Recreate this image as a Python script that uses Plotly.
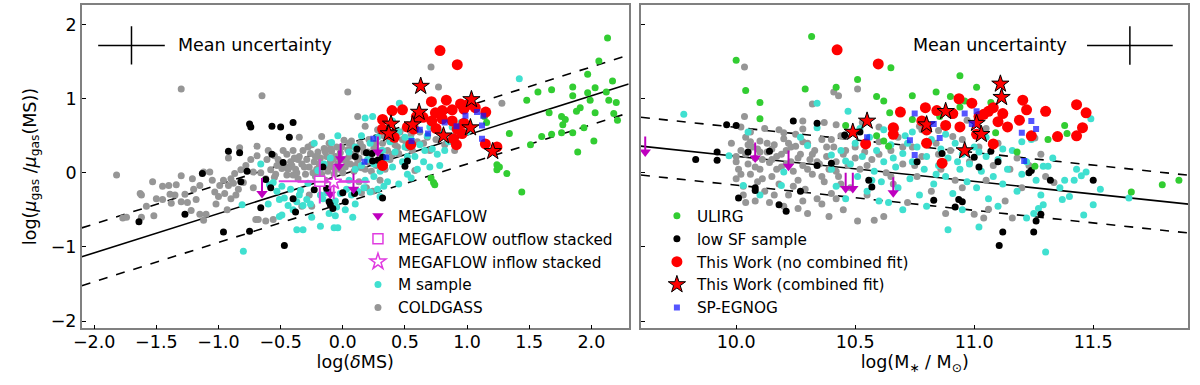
import plotly.graph_objects as go

# ---------------- data ----------------
# left panel: (log(deltaMS), log(mu_gas/mu_gas(MS)))
coldgass_left = [
(-1.82,-0.03),(-1.74,-0.60),(-1.77,-0.61),(-1.63,-0.28),(-1.62,-0.30),(-1.53,-0.12),(-1.52,-0.58),(-1.62,-0.60),
(-1.45,-0.18),(-1.40,-0.17),(-1.34,-0.16),(-1.45,-0.36),(-1.39,-0.29),(-1.38,-0.41),(-1.30,-0.04),(-1.30,-0.39),
(-1.27,-0.29),(-1.25,-0.40),(-1.21,-0.08),(-1.18,-0.36),(-1.22,-0.51),(-1.15,-0.56),(-1.12,-0.64),(-1.10,-0.56),
(-1.12,0.01),(-1.07,0.01),(-1.15,-0.17),(-1.03,-0.26),(-0.99,-0.17),(-1.00,-0.32),(-1.02,-0.42),(-0.96,-0.10),
(-0.92,-0.17),(-0.90,-0.08),(-0.87,-0.01),(-0.93,-0.50),(-0.92,0.20),(-0.90,-0.35),(-0.88,-0.14),(-0.86,-0.30),
(-0.83,0.34),(-0.82,0.04),(-0.80,-0.13),(-0.74,0.18),(-0.72,0.01),(-0.69,0.36),(-0.69,0.23),(-0.70,-0.63),
(-0.61,0.18),(-0.62,-0.08),(-0.62,-0.65),(-0.58,0.04),(-0.55,-0.06),(-0.54,-0.02),(-0.55,0.23),(-0.53,0.10),
(-0.49,0.06),(-0.47,0.09),(-0.43,0.08),(-0.41,0.10),(-0.45,-0.03),(-0.40,-0.03),(-0.37,0.00),(-0.36,0.18),
(-0.35,0.48),(-1.30,1.13),(-0.65,1.04),(0.04,1.09),(0.71,1.43),(0.77,1.16),(1.28,0.94),
(-0.45,0.25),(-0.42,0.15),(-0.40,0.30),(-0.38,0.05),(-0.35,0.22),(-0.33,0.12),(-0.32,0.30),(-0.30,-0.02),
(-0.29,0.18),(-0.27,0.08),(-0.26,0.26),(-0.25,0.38),(-0.23,0.15),(-0.22,-0.05),(-0.21,0.05),(-0.20,0.28),
(-0.18,0.20),(-0.17,0.49),(-0.16,0.10),(-0.15,0.33),(-0.14,-0.10),(-0.13,0.22),(-0.12,0.02),(-0.11,0.40),
(-0.10,0.15),(-0.09,0.29),(-0.08,0.08),(-0.07,-0.02),(-0.06,0.22),(-0.05,0.35),(-0.04,0.12),(-0.03,0.05),
(-0.02,0.27),(0.00,0.18),(0.01,0.44),(0.02,0.08),(0.04,0.31),(0.05,0.22),(0.06,0.12),(0.08,0.36),
(0.09,0.02),(0.10,0.25),(0.12,0.17),(0.13,-0.12),(0.14,0.40),(0.15,0.07),(0.17,0.28),(0.18,0.63),
(0.19,-0.20),(0.20,0.15),(0.21,0.45),(0.23,0.02),(0.25,0.33),(0.27,0.10),(0.28,0.58),(0.30,0.22),
(0.32,0.40),(0.34,0.05),(0.36,0.30),(0.38,0.18),(0.40,0.49),(0.42,0.38),(0.45,0.26),(0.48,0.45),
(0.50,0.60),(0.52,0.34),(0.55,0.52),(0.58,0.03),(0.60,0.42),(0.62,0.55),(0.65,0.40),(0.68,0.48),
(0.70,0.30),(0.75,0.45),(0.82,0.38),(0.88,0.42),(0.12,0.76),(0.24,-0.25),(0.30,-0.10),(-0.27,-0.30),
(-0.68,-0.63),(-0.56,-0.63),(-0.25,-0.45),(-0.33,-0.45),(0.15,-0.27),(0.07,0.43),(0.90,0.30),
(-0.48,0.30),(-0.44,0.05),(-0.39,0.20),(-0.36,-0.08),(-0.31,0.08),(-0.28,0.35),(-0.24,0.00),(-0.22,0.22),
(-0.19,0.12),(-0.17,-0.02),(-0.14,0.28),(-0.12,0.10),(-0.10,0.33),(-0.08,0.18),(-0.06,0.05),(-0.03,0.20),
(-0.01,0.35),(0.00,0.00),(0.03,0.15),(0.05,0.40),(0.07,0.25),(0.10,0.10),(0.11,0.30),(0.13,0.20),
(0.16,0.35),(0.18,0.05),(0.20,0.28),(0.22,0.20),(0.26,0.40),(0.29,0.15),(0.31,0.30),(0.33,0.50),
(0.37,0.45),(0.40,0.25),(0.44,0.35),(0.46,0.55),(0.51,0.40),(0.56,0.30),(-0.52,0.18),(-0.60,0.30),
(-0.66,0.00),(-0.72,-0.20),(-0.78,0.10),(-0.84,-0.22),(-0.95,-0.28),(-1.05,-0.10),(-1.20,-0.22),(-1.35,-0.30),
(-1.50,-0.35),(-1.58,-0.45),
]
msample_left = [
(-0.80,-1.06),(-0.81,-0.43),(-0.66,0.12),(-0.59,-0.16),(-0.56,-0.13),(-0.53,-0.25),(-0.49,-0.18),(-0.51,-0.36),
(-0.47,-0.34),(-0.44,-0.44),(-0.51,-0.59),(-0.49,-0.57),(-0.40,-0.50),(-0.37,-0.39),(-0.37,-0.77),(-0.35,-0.30),
(-0.34,-0.24),(-0.32,-0.44),(-0.29,-0.36),(-0.23,0.40),(-0.20,0.03),(-0.20,-0.08),(-0.16,-0.35),(-0.11,-0.55),
(-0.06,-0.58),(-0.04,-0.74),(-0.06,-0.38),(-0.04,0.50),(-0.09,0.41),(-0.05,-0.46),(-0.26,-0.42),(-0.18,-0.30),
(-0.13,-0.27),(-0.02,-0.28),(0.03,-0.22),(0.07,-0.30),(0.12,-0.25),(0.17,-0.20),(0.22,-0.26),(0.28,-0.22),
(0.33,-0.18),(0.36,-0.12),(0.02,-0.50),(0.10,-0.42),(0.18,-0.10),(0.25,-0.05),(0.05,-0.10),(0.10,0.05),
(0.15,0.10),(0.20,0.18),(0.25,0.12),(0.30,0.02),(0.32,0.30),(0.35,0.20),(0.38,0.42),(0.40,0.08),
(0.42,0.28),(0.45,0.55),(0.455,0.94),(0.18,0.74),(0.24,0.76),(0.48,0.15),(0.50,0.35),(0.52,-0.02),
(0.55,-0.07),(0.55,0.45),(0.58,0.22),(0.60,0.58),(0.62,0.38),(0.65,0.15),(0.68,0.50),(0.70,0.08),
(0.72,0.32),(0.76,0.25),(0.78,0.55),(0.85,0.42),(0.90,0.50),(0.95,0.68),(1.42,1.27),(0.10,0.35),
(0.05,0.28),(-0.10,0.20),(-0.15,0.12),(0.28,0.48),(0.35,0.60),(0.40,0.70),(0.60,0.05),(0.45,-0.15),
(0.66,0.30),(0.74,0.60),(0.82,0.30),(0.50,0.48),(0.15,0.50),(0.22,0.40),(-0.28,-0.14),(-0.42,-0.22),
(-0.25,-0.60),(-0.60,-0.42),(0.08,-0.60),(-0.18,-0.72),(0.30,-0.32),(0.58,0.65),(0.52,0.22),(0.88,0.62),
(0.92,0.40),(0.70,0.62),(1.00,0.55),(0.78,0.10),(-0.32,-0.77),(-0.07,-0.74),
]
lowsf_left = [
(-1.64,-0.66),(-1.27,-0.56),(-1.13,-0.01),(-0.96,-0.80),(-0.92,0.29),(-0.83,0.27),(-0.82,-0.12),(-0.77,0.02),
(-0.75,0.66),(-0.74,0.62),(-0.75,-0.79),(-0.62,-0.09),(-0.58,-0.20),(-0.57,0.63),(-0.57,0.25),(-0.50,0.62),
(-0.48,0.14),(-0.43,0.48),(-0.40,0.68),(-0.66,-0.47),(-0.47,-0.98),(-0.40,-0.35),(-0.38,-0.53),(-0.23,-0.23),
(-0.16,0.08),(-0.13,-0.21),(-0.11,-0.39),(-0.10,-0.43),(0.00,-0.27),(0.02,-0.39),(0.50,0.09),(0.32,-0.34),
(0.114,0.32),(0.236,0.26),(0.28,0.17),(0.32,0.21),(0.10,0.22),(0.19,0.27),(0.24,0.16),(0.52,0.16),
(0.095,-0.28),(-0.08,-0.48),
]
ulirg_left = [
(2.06,1.51),(1.97,1.33),(2.03,1.15),(1.85,1.16),(1.68,1.12),(1.57,1.09),(1.48,0.98),(1.85,1.04),
(1.97,1.08),(1.99,0.98),(2.03,0.81),(1.91,0.88),(1.88,0.83),(1.76,0.76),(1.79,0.72),(1.77,0.65),
(1.66,0.81),(1.85,0.54),(1.76,0.54),(1.94,0.61),(2.02,0.43),(1.89,0.28),(1.68,0.52),(1.60,0.49),
(1.51,0.38),(1.34,0.53),(1.24,0.11),(1.24,0.04),(1.32,-0.01),(1.44,-0.26),(1.14,0.76),(0.71,-0.07),
(0.73,-0.13),(0.74,-0.16),(2.13,1.82),(2.17,1.24),(2.12,1.09),(2.14,0.98),(2.18,0.80),(2.21,0.71),
(2.20,0.95),(1.157,0.68),(1.26,0.08),
]
thiswork_left = [
(0.782,1.65),(0.921,1.46),(0.713,0.96),(0.833,0.98),(0.947,0.93),(0.974,0.86),(1.15,0.82),(0.396,0.84),
(0.48,0.85),(0.32,0.72),(0.80,0.84),(0.88,0.85),(0.646,0.75),(0.716,0.70),(0.80,0.73),(0.88,0.70),
(0.32,0.59),(0.414,0.48),(0.52,0.62),(0.57,0.59),(0.75,0.60),(0.92,0.59),(0.96,0.53),(0.89,0.46),
(1.147,0.39),(1.24,0.35),(0.32,0.10),(0.546,0.38),(0.378,0.52),(0.592,0.76),(0.745,0.81),(1.066,0.88),
(1.005,0.92),(0.975,0.67),(0.914,0.38),
]
combined_left = [
(0.627,1.17),(1.035,0.99),(0.614,0.82),(0.388,0.66),(0.37,0.53),(0.562,0.65),(1.027,0.61),(0.81,0.50),(1.206,0.29),
]
spegnog_left = [
(1.08,0.82),(1.13,0.77),(0.987,0.77),(0.82,0.68),(0.915,0.63),(0.62,0.58),(0.686,0.53),(1.12,0.64),
(1.12,0.46),(0.553,0.43),(0.35,0.21),(0.175,0.15),(0.246,0.46),
]
megaflow_left = [(-0.65,-0.07),(-0.017,0.40),(-0.03,0.30),(0.086,-0.01),(-0.10,-0.08),(0.282,0.49)]
outflow_stack = dict(x=-0.185, y=-0.114, xerr=0.33, yerr=0.30)
inflow_stack = dict(x=-0.073, y=-0.122, xerr=0.29, yerr=0.23)

# right panel: (log M*, log(mu_gas/mu_gas(MS)))
coldgass_right = [
(10.035,1.43),(10.41,1.09),(10.43,1.04),(10.51,1.13),(10.32,0.93),(10.035,0.76),(10.28,0.70),(10.28,0.59),
(10.20,0.54),(10.77,0.63),(10.78,0.58),(10.91,0.49),(11.255,0.47),(10.42,0.65),(10.37,0.68),(10.53,0.68),
(10.60,0.62),(10.67,0.60),(10.85,0.57),(10.97,0.71),(11.05,0.60),
(9.98,0.40),(10.00,0.22),(10.01,0.05),(10.00,-0.08),(10.02,0.30),(10.03,-0.18),(10.04,0.48),(10.05,0.12),
(10.06,-0.02),(10.07,0.35),(10.08,0.20),(10.09,-0.12),(10.10,0.43),(10.10,0.05),(10.12,-0.25),(10.13,0.28),
(10.14,0.14),(10.15,-0.05),(10.16,0.38),(10.17,0.22),(10.18,-0.15),(10.19,0.08),(10.20,0.46),(10.21,0.30),
(10.22,-0.30),(10.23,0.15),(10.24,0.02),(10.25,0.36),(10.26,-0.10),(10.27,0.25),(10.28,0.10),(10.29,-0.22),
(10.30,0.40),(10.31,0.18),(10.32,-0.02),(10.33,0.30),(10.34,-0.35),(10.35,0.12),(10.36,0.45),(10.37,-0.12),
(10.38,0.22),(10.39,0.05),(10.40,-0.28),(10.41,0.35),(10.42,0.15),(10.43,-0.05),(10.44,0.50),(10.45,0.25),
(10.06,0.55),(10.12,0.60),(10.18,0.58),(10.25,0.52),(10.03,-0.30),(10.08,-0.38),(10.14,-0.40),(10.20,-0.45),
(10.26,-0.48),(10.30,-0.55),(10.02,0.62),(10.09,0.32),(10.15,0.18),(10.22,0.40),(10.11,-0.08),(10.05,0.38),
(10.47,0.10),(10.48,-0.20),(10.50,0.35),(10.51,-0.65),(10.52,0.05),(10.54,0.28),(10.55,-0.30),(10.57,0.18),
(10.58,-0.64),(10.60,0.42),(10.62,-0.59),(10.63,0.00),(10.65,0.30),(10.66,-0.15),(10.68,0.48),(10.70,0.12),
(10.72,-0.40),(10.74,0.35),(10.76,-0.05),(10.78,0.22),(10.80,0.55),(10.82,-0.25),(10.84,0.40),(10.86,0.05),
(10.88,-0.55),(10.90,0.30),(10.92,-0.10),(10.95,0.45),(10.98,0.15),(11.00,-0.56),(11.02,0.35),(11.04,-0.61),
(11.06,-0.49),(11.08,0.10),(11.10,0.40),(11.13,-0.38),(11.16,-0.61),(11.18,0.20),(11.20,-0.20),(11.23,0.10),
(11.28,0.25),(11.335,-0.13),(11.30,-0.05),(10.45,-0.50),(10.39,-0.59),
(10.00,0.15),(10.02,-0.02),(10.04,0.25),(10.06,0.42),(10.08,0.08),(10.10,0.28),(10.11,0.18),(10.13,0.40),
(10.15,0.32),(10.17,0.05),(10.19,0.25),(10.21,0.12),(10.23,0.35),(10.24,-0.18),(10.26,0.20),(10.28,0.42),
(10.30,0.05),(10.32,0.25),(10.34,0.15),(10.36,-0.05),(10.38,0.35),(10.40,0.45),(10.42,0.02),(10.44,-0.15),
(10.46,0.30),(10.50,0.20),(10.55,0.10),(10.60,0.25),(10.65,-0.05),(10.70,0.35),(10.75,0.10),(10.85,0.25),
(10.95,-0.20),(11.05,-0.10),(11.15,0.05),(10.04,-0.40),(10.16,-0.30),(10.28,-0.38),(10.36,-0.42),(10.42,-0.35),
]
msample_right = [
(9.78,0.79),(10.34,0.94),(10.47,0.83),(11.30,-1.07),(10.89,-0.77),(11.02,-0.73),(11.22,-0.61),(11.29,-0.43),
(11.46,-0.57),(11.50,-0.43),(11.53,-0.22),(11.65,-0.34),(11.49,0.73),(11.45,-0.04),(11.47,0.01),(11.40,-0.32),
(11.38,-0.10),(11.37,-0.36),(11.29,0.09),(11.31,0.09),(9.97,0.23),(10.05,0.55),(10.03,-0.17),(10.10,-0.30),
(10.27,0.48),(10.30,0.37),(10.34,0.61),(10.20,0.01),(10.19,-0.17),(10.40,0.24),
(10.40,0.05),(10.42,-0.18),(10.44,0.30),(10.46,-0.35),(10.48,0.12),(10.50,0.40),(10.51,-0.05),(10.53,0.22),
(10.55,-0.25),(10.56,0.48),(10.58,0.02),(10.59,0.30),(10.61,-0.12),(10.62,0.15),(10.64,-0.40),(10.65,0.38),
(10.67,0.08),(10.68,-0.20),(10.70,0.26),(10.71,0.50),(10.73,-0.08),(10.74,0.15),(10.76,0.35),(10.77,-0.30),
(10.79,0.05),(10.80,0.22),(10.82,0.45),(10.83,-0.15),(10.85,0.10),(10.86,0.32),(10.88,-0.05),(10.89,0.20),
(10.91,-0.28),(10.92,0.40),(10.94,0.05),(10.95,0.25),(10.97,-0.12),(10.98,0.12),(11.00,0.35),(11.01,-0.20),
(11.03,0.02),(11.05,0.22),(11.06,-0.35),(11.08,-0.05),(11.10,0.18),(11.12,-0.15),(11.14,0.05),(11.16,0.30),
(11.18,-0.25),(11.20,-0.02),(11.22,0.15),(11.24,0.45),(11.26,-0.10),(11.28,-0.30),(11.25,-0.55),(11.27,-0.48),
(11.10,-0.45),(10.95,-0.50),(10.80,-0.45),(10.70,-0.50),(10.60,-0.38),(10.52,0.60),(10.62,0.58),(10.74,0.55),
(10.88,0.52),(11.05,0.48),(11.20,0.42),(11.33,0.20),(11.36,-0.20),(11.42,-0.10),(11.43,0.05),(10.66,0.20),
(10.72,0.40),(10.84,-0.02),(10.93,0.15),(11.02,0.28),(11.12,0.32),(10.57,-0.10),(10.46,0.16),
]
lowsf_right = [
(9.83,0.18),(9.92,0.28),(9.92,0.17),(9.96,0.65),(10.0,0.64),(10.01,-0.34),(10.05,0.28),(10.08,-0.20),
(10.08,-0.24),(10.14,0.29),(10.18,-0.43),(10.21,-0.52),(10.24,0.70),(10.27,-0.25),(10.34,0.67),(10.34,0.10),
(10.40,0.13),(10.456,0.51),(10.557,-0.10),(10.57,-0.19),(10.76,0.15),(10.83,-0.37),(10.865,0.26),(10.92,-0.46),
(10.935,-0.36),(10.95,-0.39),(11.0,0.21),(11.02,0.08),(11.07,0.29),(11.10,0.15),(11.105,-0.98),(11.12,-0.80),
(11.23,0.0),(11.24,0.03),(11.28,-0.56),(11.26,-0.65),(11.25,-0.80),(11.32,-0.10),(11.50,-0.10),(10.52,0.55),
]
ulirg_right = [
(10.317,1.84),(10.0,1.52),(10.04,1.11),(10.10,0.95),(10.10,0.73),(10.29,1.13),(10.42,1.155),(10.51,1.26),
(10.65,1.42),(10.59,1.03),(10.62,0.97),(10.74,1.04),(10.84,1.09),(10.94,1.31),(11.01,1.155),(10.90,1.03),
(10.96,0.97),(10.645,0.81),(10.74,0.72),(10.46,0.64),(10.59,0.50),(10.62,0.43),(10.64,0.36),(11.09,0.54),
(11.38,0.64),(11.39,0.53),(11.31,0.45),(11.18,0.28),(11.255,0.09),(11.66,-0.26),(11.79,-0.16),(11.86,-0.10),
(10.855,0.76),(10.94,0.89),(11.07,0.95),
]
thiswork_right = [
(10.424,1.66),(10.597,1.47),(10.936,1.00),(10.99,0.94),(11.08,0.88),(11.06,0.83),(11.04,0.79),(11.02,0.76),
(11.204,0.98),(11.22,0.85),(11.30,0.83),(11.43,0.92),(11.47,0.81),(10.795,0.88),(10.843,0.84),(10.91,0.80),
(10.69,0.82),(11.12,0.80),(10.78,0.70),(10.88,0.64),(10.94,0.62),(11.10,0.69),(11.14,0.62),(11.19,0.71),
(11.24,0.50),(11.35,0.49),(11.43,0.50),(11.455,0.61),(10.66,0.61),(10.66,0.52),(10.80,0.58),(10.80,0.40),
(11.01,0.52),(11.08,0.39),(10.544,0.39),(10.865,0.13),
]
combined_right = [
(11.11,1.20),(11.115,1.02),(10.88,0.83),(10.55,0.70),(10.49,0.55),(10.80,0.65),(11.01,0.67),(11.03,0.52),(10.96,0.30),
]
spegnog_right = [
(10.75,0.80),(10.83,0.66),(10.96,0.80),(10.99,0.66),(11.01,0.83),(10.55,0.48),(10.73,0.44),(10.855,0.47),
(10.75,0.24),(11.2,0.54),(11.24,0.70),(11.26,0.59),(11.21,0.16),
]
megaflow_right = [(9.618,0.49),(10.08,0.41),(10.22,0.30),(10.46,0.0),(10.49,0.0),(10.66,-0.06)]

# fits: y = slope*x + intercept, with scatter band
fit_left = dict(slope=0.53, intercept=-0.02, scatter=0.39)
fit_right = dict(slope=-0.34, intercept=3.624, scatter=0.39)

# mean uncertainties
unc_left = dict(x=-1.70, y=1.72, xerr=0.268, yerr=0.257)
unc_right = dict(x=11.654, y=1.72, xerr=0.18, yerr=0.26)

x_left_range = [-2.1, 2.3]
x_right_range = [9.6, 11.9]
y_range = [-2.1, 2.27]
arrow_len = 0.20

FONT = "DejaVu Sans"
MAG = "#BF00BF"
MAG_LIGHT = "#E03CE0"

fig = go.Figure()

def xs(p): return [a for a, b in p]
def ys(p): return [b for a, b in p]

def add_fit(fit, xr, xa, ya):
    xx = list(xr)
    for off, dash in [(0, "solid"), (fit["scatter"], "dash"), (-fit["scatter"], "dash")]:
        fig.add_trace(go.Scatter(x=xx, y=[fit["slope"] * v + fit["intercept"] + off for v in xx],
                                 mode="lines", line=dict(color="black", width=1.6, dash=dash),
                                 xaxis=xa, yaxis=ya, showlegend=False, hoverinfo="skip"))

add_fit(fit_left, x_left_range, "x", "y")
add_fit(fit_right, x_right_range, "x2", "y2")

def add_sample(left, right, name, color, size, symbol="circle", line=None, legend="legend", rank=1):
    for i, (pts, xa, ya) in enumerate([(left, "x", "y"), (right, "x2", "y2")]):
        show = (legend == "legend" and i == 0) or (legend == "legend2" and i == 1)
        fig.add_trace(go.Scatter(
            x=xs(pts), y=ys(pts), mode="markers", name=name, legendgroup=name,
            marker=dict(color=color, size=size, symbol=symbol,
                        line=line if line else dict(width=0)),
            xaxis=xa, yaxis=ya, showlegend=show, legend=legend, legendrank=rank))

add_sample(coldgass_left, coldgass_right, "COLDGASS", "#969696", 7, legend="legend", rank=5)
add_sample(msample_left, msample_right, "M sample", "#40E0D0", 7, legend="legend", rank=4)
add_sample(lowsf_left, lowsf_right, "low SF sample", "black", 7, legend="legend2", rank=2)
add_sample(ulirg_left, ulirg_right, "ULIRG", "#32CD32", 7, legend="legend2", rank=1)
add_sample(thiswork_left, thiswork_right, "This Work (no combined fit)", "#FF0000", 11, legend="legend2", rank=3)
add_sample(combined_left, combined_right, "This Work (combined fit)", "#FF0000", 13, symbol="star",
           line=dict(color="black", width=1), legend="legend2", rank=4)
add_sample(spegnog_left, spegnog_right, "SP-EGNOG", "rgba(20,20,255,0.72)", 6, symbol="square",
           legend="legend2", rank=5)

# MEGAFLOW upper limits (arrows)
for i, (pts, xa, ya) in enumerate([(megaflow_left, "x", "y"), (megaflow_right, "x2", "y2")]):
    sx, sy = [], []
    for a, b in pts:
        sx += [a, a, None]
        sy += [b, b - arrow_len, None]
    fig.add_trace(go.Scatter(x=sx, y=sy, mode="lines", line=dict(color=MAG, width=2),
                             xaxis=xa, yaxis=ya, showlegend=False, hoverinfo="skip"))
    fig.add_trace(go.Scatter(x=xs(pts), y=[b - arrow_len - 0.01 for b in ys(pts)], mode="markers",
                             marker=dict(symbol="triangle-down", size=10, color=MAG, line=dict(width=0)),
                             name="MEGAFLOW", legendgroup="MEGAFLOW", xaxis=xa, yaxis=ya,
                             showlegend=(i == 0), legend="legend", legendrank=1))

# stacked points
for st, name, sym, sz, rank in [(outflow_stack, "MEGAFLOW outflow stacked", "square", 10, 2),
                                (inflow_stack, "MEGAFLOW inflow stacked", "star", 12, 3)]:
    fig.add_trace(go.Scatter(
        x=[st["x"]], y=[st["y"]], mode="markers", name=name,
        error_x=dict(type="data", array=[st["xerr"]], color=MAG_LIGHT, thickness=2, width=0),
        error_y=dict(type="data", array=[st["yerr"]], color=MAG_LIGHT, thickness=2, width=0),
        marker=dict(symbol=sym, size=sz, color="white", line=dict(color=MAG_LIGHT, width=1.5)),
        xaxis="x", yaxis="y", legend="legend", legendrank=rank))

# mean uncertainty crosses
for u, xa, ya in [(unc_left, "x", "y"), (unc_right, "x2", "y2")]:
    fig.add_trace(go.Scatter(
        x=[u["x"]], y=[u["y"]], mode="markers", marker=dict(size=1, color="rgba(0,0,0,0)"),
        error_x=dict(type="data", array=[u["xerr"]], color="black", thickness=1.5, width=0),
        error_y=dict(type="data", array=[u["yerr"]], color="black", thickness=1.5, width=0),
        xaxis=xa, yaxis=ya, showlegend=False, hoverinfo="skip"))

fig.add_annotation(x=-1.34, y=1.72, xref="x", yref="y", text="Mean uncertainty", showarrow=False,
                   xanchor="left", yanchor="middle", font=dict(family=FONT, size=17.5, color="black"))
fig.add_annotation(x=11.398, y=1.72, xref="x2", yref="y2", text="Mean uncertainty", showarrow=False,
                   xanchor="right", yanchor="middle", font=dict(family=FONT, size=17.5, color="black"))

axis_common = dict(showline=True, mirror=True, linecolor="#808080", linewidth=1.5, showgrid=False,
                   zeroline=False, ticks="inside", ticklen=4, tickwidth=1, tickcolor="black",
                   tickfont=dict(family=FONT, size=17.5, color="black"))

fig.update_layout(
    width=1200, height=385, margin=dict(l=0, r=0, t=0, b=0),
    paper_bgcolor="white", plot_bgcolor="white",
    font=dict(family=FONT, size=17.5, color="black"),
    xaxis=dict(domain=[0.0611, 0.5203], range=x_left_range, tickvals=[-2, -1.5, -1, -0.5, 0, 0.5, 1, 1.5, 2],
               tickformat=".1f", ticklabelstandoff=-3,
               title=dict(text="log(<i>δ</i>MS)", standoff=4, font=dict(family=FONT, size=17.5)),
               anchor="y", **axis_common),
    yaxis=dict(domain=[0.1403, 0.9878], range=y_range, tickvals=[-2, -1, 0, 1, 2],
               title=dict(text="log(<i>μ</i><sub>gas</sub> /<i>μ</i><sub>gas</sub>(MS))", standoff=10,
                          font=dict(family=FONT, size=17.5)), anchor="x", **axis_common),
    xaxis2=dict(domain=[0.5306, 0.9903], range=x_right_range, tickvals=[10, 10.5, 11, 11.5],
                tickformat=".1f", ticklabelstandoff=-3,
                title=dict(text="log(M<sub>∗</sub> / M<sub>⊙</sub>)", standoff=4, font=dict(family=FONT, size=17.5)),
                anchor="y2", **axis_common),
    yaxis2=dict(domain=[0.1403, 0.9878], range=y_range, tickvals=[-2, -1, 0, 1, 2], showticklabels=False,
                anchor="x2", **axis_common),
    legend=dict(x=0.293, y=0.478, xanchor="left", yanchor="top", bgcolor="rgba(0,0,0,0)",
                font=dict(family=FONT, size=15.3, color="black"), tracegroupgap=0),
    legend2=dict(x=0.544, y=0.478, xanchor="left", yanchor="top", bgcolor="rgba(0,0,0,0)",
                 font=dict(family=FONT, size=15.3, color="black"), tracegroupgap=0),
)

fig.write_html("out.html", config={"displayModeBar": False},
               post_script="document.body.style.margin='0px';document.body.style.overflow='hidden';")
